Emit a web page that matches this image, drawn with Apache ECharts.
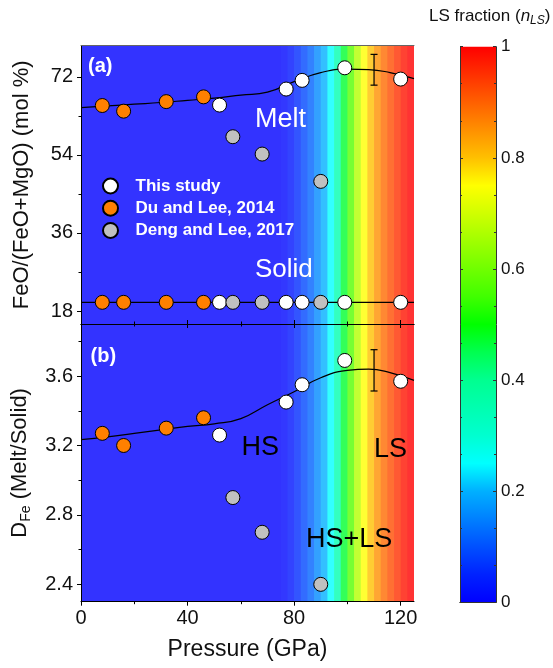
<!DOCTYPE html>
<html>
<head>
<meta charset="utf-8">
<script src="https://cdn.jsdelivr.net/npm/echarts@6/dist/echarts.min.js"></script>
<style>
html, body { margin: 0; padding: 0; background: #fff; }
#chart { width: 553px; height: 668px; }
</style>
</head>
<body>
<div id="chart"></div>
<script>
// data
var thisP = [52, 77, 83, 99, 120];
var thisMelt = [65.5, 69.2, 71.2, 74.1, 71.5];
var thisSolid = [20, 20, 20, 20, 20];
var thisD = [3.26, 3.45, 3.55, 3.69, 3.57];

var duP = [8, 16, 32, 46];
var duMelt = [65.4, 64.1, 66.3, 67.4];
var duSolid = [20, 20, 20, 20];
var duD = [3.27, 3.20, 3.30, 3.36];

var dengP = [57, 68, 90];
var dengMelt = [58.2, 54.2, 47.9];
var dengSolid = [20, 20, 20];
var dengD = [2.90, 2.70, 2.40];

// fitted curves
var fitP = [0, 10, 20, 30, 40, 50, 60, 70, 80, 90, 100, 108, 116, 125];
var fitMelt = [64.9, 65.3, 65.7, 66.1, 66.6, 67.1, 67.8, 68.5, 70.9, 73.0, 73.8, 73.7, 73.0, 71.6];
var fitD = [3.234, 3.25, 3.27, 3.29, 3.31, 3.325, 3.355, 3.435, 3.51, 3.59, 3.633, 3.64, 3.62, 3.575];
var solidFitP = [0, 125];
var solidFitVal = [20, 20];

// error bars
var errP = [110];
var errMeltLow = [70.1];
var errMeltHigh = [77.2];
var errDLow = [3.514];
var errDHigh = [3.752];

// LS fraction background (band edges in GPa and n_LS per band)
var bandEdges = [0, 75, 77.5, 80, 82.5, 85, 87.5, 90, 92.5, 95, 97.5, 100, 102.5, 105, 107.5, 110, 112.5, 115, 117.5, 120, 122.5, 125];
var bandLS = [0, 0.01, 0.03, 0.06, 0.09, 0.12, 0.16, 0.2, 0.25, 0.35, 0.47, 0.57, 0.67, 0.75, 0.8, 0.85, 0.89, 0.92, 0.95, 0.98, 1.0];

var lsColors = ['#0000ff', '#0022ff', '#0050ff', '#0080ff', '#00b0ff', '#00ffff', '#00ffd0',
    '#00ffb0', '#00ff90', '#00ff50', '#00ff00', '#40ff00', '#70ff00', '#a0ff00', '#d0ff00',
    '#ffff00', '#ffc000', '#ff9000', '#ff6000', '#ff3000', '#ff0000'];

var FONT = '"Liberation Sans", Arial, sans-serif';

var chart = echarts.init(document.getElementById('chart'));

function pairs(xs, ys) {
    var out = [];
    for (var i = 0; i < xs.length; i++) out.push([xs[i], ys[i]]);
    return out;
}

// background is the colour map washed with 20% white
function washed(hex) {
    var n = parseInt(hex.slice(1), 16);
    var r = (n >> 16) & 255, g = (n >> 8) & 255, b = n & 255;
    var f = function (v) { return Math.round(v * 0.8 + 255 * 0.2); };
    return 'rgb(' + f(r) + ',' + f(g) + ',' + f(b) + ')';
}

var bandData = [];
for (var i = 0; i < bandLS.length; i++) {
    bandData.push([bandEdges[i], bandEdges[i + 1], bandLS[i]]);
}

var errMeltData = [];
var errDData = [];
for (var j = 0; j < errP.length; j++) {
    errMeltData.push([errP[j], errMeltLow[j], errMeltHigh[j]]);
    errDData.push([errP[j], errDLow[j], errDHigh[j]]);
}

function renderBand(params, api) {
    var cs = params.coordSys;
    var x0 = api.coord([api.value(0), 0])[0];
    var x1 = api.coord([api.value(1), 0])[0];
    var w = Math.min(x1 - x0 + 0.8, cs.x + cs.width - x0);
    return {
        type: 'rect',
        shape: { x: x0, y: cs.y, width: w, height: cs.height },
        style: { fill: api.visual('color') }
    };
}

function renderErr(params, api) {
    var top = api.coord([api.value(0), api.value(2)]);
    var bot = api.coord([api.value(0), api.value(1)]);
    var cap = 3.5;
    var st = { stroke: '#000', lineWidth: 1.2 };
    return {
        type: 'group',
        children: [
            { type: 'line', shape: { x1: top[0], y1: top[1], x2: bot[0], y2: bot[1] }, style: st },
            { type: 'line', shape: { x1: top[0] - cap, y1: top[1], x2: top[0] + cap, y2: top[1] }, style: st },
            { type: 'line', shape: { x1: bot[0] - cap, y1: bot[1], x2: bot[0] + cap, y2: bot[1] }, style: st }
        ]
    };
}

var majorX = [0, 40, 80, 120];
var minorX = [20, 60, 100];

function xAx(grid, pos, opts) {
    var base = {
        type: 'value', gridIndex: grid, position: pos, min: 0, max: 125, z: 10,
        axisLine: { show: false, lineStyle: { color: '#000', width: 1 } },
        axisTick: { show: false },
        axisLabel: { show: false },
        splitLine: { show: false }
    };
    return Object.assign(base, opts);
}

function yAx(grid, pos, min, max, opts) {
    var base = {
        type: 'value', gridIndex: grid, position: pos, min: min, max: max, z: 10,
        axisLine: { show: false, lineStyle: { color: '#000', width: 1 } },
        axisTick: { show: false },
        axisLabel: { show: false },
        splitLine: { show: false }
    };
    return Object.assign(base, opts);
}

var tickLabel = { show: true, color: '#111', fontSize: 20, fontFamily: FONT, margin: 8 };

var option = {
    animation: false,
    backgroundColor: '#fff',
    grid: [
        { left: 81, top: 45.7, width: 333, height: 278.3 },
        { left: 81, top: 324, width: 333, height: 277.7 },
        { left: 460, top: 46.7, width: 36, height: 555.6 }
    ],
    visualMap: {
        type: 'continuous', show: false, min: 0, max: 1, dimension: 2,
        seriesIndex: [0, 1],
        inRange: { color: lsColors.map(washed) }
    },
    legend: {
        orient: 'vertical', left: 102, top: 177.5, padding: 0,
        itemWidth: 40, itemHeight: 15, itemGap: 5.2,
        selectedMode: false,
        data: ['This study', 'Du and Lee, 2014', 'Deng and Lee, 2017'],
        textStyle: { color: '#fff', fontWeight: 'bold', fontSize: 17, fontFamily: FONT }
    },
    xAxis: [
        // panel a
        xAx(0, 'bottom', { axisLine: { show: true, lineStyle: { color: '#000' } },
            axisTick: { show: true, customValues: majorX, length: 4, lineStyle: { color: '#000' } } }),
        xAx(0, 'bottom', { axisTick: { show: true, customValues: minorX, length: 2.5, lineStyle: { color: '#000' } } }),
        xAx(0, 'top', { axisLine: { show: true, lineStyle: { color: '#666' } } }),
        // panel b
        xAx(1, 'bottom', {
            axisLine: { show: true, lineStyle: { color: '#000' } },
            axisTick: { show: true, customValues: majorX, length: 4, lineStyle: { color: '#000' } },
            axisLabel: Object.assign({}, tickLabel, { customValues: majorX, margin: 7 }),
            name: 'Pressure (GPa)', nameLocation: 'middle', nameGap: 36,
            nameTextStyle: { fontSize: 23, color: '#111', fontFamily: FONT }
        }),
        xAx(1, 'bottom', { axisTick: { show: true, customValues: minorX, length: 2.5, lineStyle: { color: '#000' } } }),
        xAx(1, 'top', { axisLine: { show: true, lineStyle: { color: '#000' } },
            axisTick: { show: true, customValues: majorX, length: 4, lineStyle: { color: '#000' } } }),
        xAx(1, 'top', { axisTick: { show: true, customValues: minorX, length: 2.5, lineStyle: { color: '#000' } } }),
        // colour bar
        { type: 'category', gridIndex: 2, position: 'bottom', data: [''], z: 10,
          axisLine: { show: true, lineStyle: { color: '#333' } }, axisTick: { show: false }, axisLabel: { show: false } },
        xAx(2, 'top', { min: 0, max: 1, axisLine: { show: true, lineStyle: { color: '#333' } } })
    ],
    yAxis: [
        // panel a
        yAx(0, 'left', 15, 79.2, {
            axisLine: { show: true, lineStyle: { color: '#000' } },
            axisTick: { show: true, customValues: [18, 36, 54, 72], length: 4, lineStyle: { color: '#000' } },
            axisLabel: Object.assign({}, tickLabel, { customValues: [18, 36, 54, 72] }),
            name: 'FeO/(FeO+MgO) (mol %)', nameLocation: 'middle', nameGap: 48, nameRotate: 90,
            nameTextStyle: { fontSize: 22, color: '#111', fontFamily: FONT }
        }),
        yAx(0, 'left', 15, 79.2, { axisTick: { show: true, customValues: [27, 45, 63], length: 2.5, lineStyle: { color: '#000' } } }),
        yAx(0, 'right', 15, 79.2, { axisLine: { show: true, lineStyle: { color: '#000' } } }),
        // panel b
        yAx(1, 'left', 2.3, 3.9, {
            axisLine: { show: true, lineStyle: { color: '#000' } },
            axisTick: { show: true, customValues: [2.4, 2.8, 3.2, 3.6], length: 4, lineStyle: { color: '#000' } },
            axisLabel: Object.assign({}, tickLabel, { customValues: [2.4, 2.8, 3.2, 3.6] }),
            name: '{d|D}{s|Fe}{d| (Melt/Solid)}', nameLocation: 'middle', nameGap: 48, nameRotate: 90,
            nameTextStyle: {
                color: '#111', fontFamily: FONT,
                rich: {
                    d: { fontSize: 22, color: '#111', fontFamily: FONT, lineHeight: 26 },
                    s: { fontSize: 14, color: '#111', fontFamily: FONT, verticalAlign: 'bottom', lineHeight: 26 }
                }
            }
        }),
        yAx(1, 'left', 2.3, 3.9, { axisTick: { show: true, customValues: [2.6, 3.0, 3.4, 3.8], length: 2.5, lineStyle: { color: '#000' } } }),
        yAx(1, 'right', 2.3, 3.9, { axisLine: { show: true, lineStyle: { color: '#000' } } }),
        // colour bar
        yAx(2, 'left', 0, 1, {
            interval: 0.2,
            axisLine: { show: true, lineStyle: { color: '#333' } },
            axisTick: { show: true, inside: true, length: 3, lineStyle: { color: '#333' } },
            minorTick: { show: true, splitNumber: 3, length: 2, lineStyle: { color: '#333' } }
        }),
        yAx(2, 'right', 0, 1, {
            interval: 0.2,
            axisLine: { show: true, lineStyle: { color: '#333' } },
            axisTick: { show: true, inside: true, length: 3, lineStyle: { color: '#333' } },
            minorTick: { show: true, splitNumber: 3, length: 2, lineStyle: { color: '#333' } },
            axisLabel: { show: true, color: '#111', fontSize: 17, fontFamily: FONT, margin: 5 }
        })
    ],
    graphic: [
        { type: 'text', x: 88, y: 66, z: 100, style: { text: '(a)', fill: '#fff', font: 'bold 20px ' + FONT, verticalAlign: 'middle' } },
        { type: 'text', x: 90.5, y: 356, z: 100, style: { text: '(b)', fill: '#fff', font: 'bold 20px ' + FONT, verticalAlign: 'middle' } },
        { type: 'text', x: 255, y: 120, z: 100, style: { text: 'Melt', fill: '#fff', font: '27px ' + FONT, verticalAlign: 'middle' } },
        { type: 'text', x: 255, y: 270, z: 100, style: { text: 'Solid', fill: '#fff', font: '26px ' + FONT, verticalAlign: 'middle' } },
        { type: 'text', x: 241.5, y: 448, z: 100, style: { text: 'HS', fill: '#000', font: '27px ' + FONT, verticalAlign: 'middle' } },
        { type: 'text', x: 374, y: 450, z: 100, style: { text: 'LS', fill: '#000', font: '27px ' + FONT, verticalAlign: 'middle' } },
        { type: 'text', x: 306, y: 540, z: 100, style: { text: 'HS+LS', fill: '#000', font: '27px ' + FONT, verticalAlign: 'middle' } },
        {
            type: 'text', x: 429, y: 16, z: 100,
            style: {
                text: '{r|LS fraction (}{i|n}{sub|LS}{r|)}',
                verticalAlign: 'middle',
                rich: {
                    r: { fontSize: 17, fontFamily: FONT, fill: '#111', lineHeight: 22 },
                    i: { fontSize: 17, fontFamily: FONT, fill: '#111', fontStyle: 'italic', lineHeight: 22 },
                    sub: { fontSize: 12, fontFamily: FONT, fill: '#111', fontStyle: 'italic', verticalAlign: 'bottom', lineHeight: 22 }
                }
            }
        }
    ],
    series: [
        { type: 'custom', xAxisIndex: 0, yAxisIndex: 0, renderItem: renderBand, data: bandData,
          encode: { x: [0, 1] }, silent: true, z: 1 },
        { type: 'custom', xAxisIndex: 3, yAxisIndex: 3, renderItem: renderBand, data: bandData,
          encode: { x: [0, 1] }, silent: true, z: 1 },
        { type: 'bar', xAxisIndex: 7, yAxisIndex: 6, data: [1], barWidth: '100%', silent: true, z: 1,
          itemStyle: {
              color: new echarts.graphic.LinearGradient(0, 1, 0, 0, lsColors.map(function (c, k) {
                  return { offset: k / (lsColors.length - 1), color: c };
              }))
          } },
        { type: 'line', xAxisIndex: 0, yAxisIndex: 0, data: pairs(fitP, fitMelt), smooth: true,
          showSymbol: false, lineStyle: { color: '#000', width: 1.2 }, silent: true, z: 3 },
        { type: 'line', xAxisIndex: 0, yAxisIndex: 0, data: pairs(solidFitP, solidFitVal),
          showSymbol: false, lineStyle: { color: '#000', width: 1.2 }, silent: true, z: 3 },
        { type: 'line', xAxisIndex: 3, yAxisIndex: 3, data: pairs(fitP, fitD), smooth: true,
          showSymbol: false, lineStyle: { color: '#000', width: 1.2 }, silent: true, z: 3 },
        { type: 'custom', xAxisIndex: 0, yAxisIndex: 0, renderItem: renderErr, data: errMeltData,
          encode: { x: 0, y: [1, 2] }, silent: true, z: 3 },
        { type: 'custom', xAxisIndex: 3, yAxisIndex: 3, renderItem: renderErr, data: errDData,
          encode: { x: 0, y: [1, 2] }, silent: true, z: 3 }
    ]
};

var groups = [
    { name: 'This study', color: '#ffffff', p: thisP, melt: thisMelt, solid: thisSolid, d: thisD },
    { name: 'Du and Lee, 2014', color: '#ff8000', p: duP, melt: duMelt, solid: duSolid, d: duD },
    { name: 'Deng and Lee, 2017', color: '#c0c0c0', p: dengP, melt: dengMelt, solid: dengSolid, d: dengD }
];

groups.forEach(function (g) {
    var style = { color: g.color, borderColor: '#000', borderWidth: 1, opacity: 1 };
    [[0, 0, g.melt], [0, 0, g.solid], [3, 3, g.d]].forEach(function (s) {
        option.series.push({
            type: 'scatter', name: g.name, xAxisIndex: s[0], yAxisIndex: s[1],
            data: pairs(g.p, s[2]), symbol: 'circle', symbolSize: 14,
            itemStyle: style, z: 4
        });
    });
});

chart.setOption(option);
</script>
</body>
</html>
